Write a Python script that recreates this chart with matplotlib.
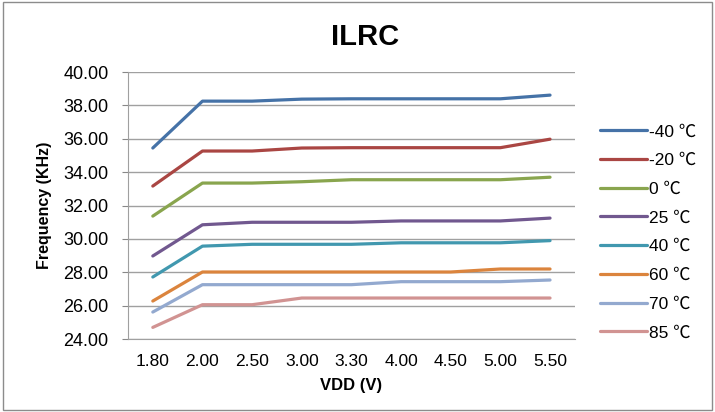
import numpy as np
import matplotlib.pyplot as plt

plt.rcParams['font.family'] = ['Liberation Sans', 'Noto Sans CJK SC', 'DejaVu Sans']

vdd = ['1.80', '2.00', '2.50', '3.00', '3.30', '4.00', '4.50', '5.00', '5.50']
temps = ['-40 ℃', '-20 ℃', '0 ℃', '25 ℃', '40 ℃', '60 ℃', '70 ℃', '85 ℃']
colors = ['#4572A7', '#AA4643', '#89A54E', '#71588F', '#4198AF', '#DB843D', '#93A9CF', '#D19392']

f_m40 = [35.45, 38.26, 38.26, 38.38, 38.40, 38.40, 38.40, 38.40, 38.62]
f_m20 = [33.17, 35.27, 35.27, 35.45, 35.47, 35.47, 35.47, 35.47, 35.98]
f_0 = [31.37, 33.35, 33.35, 33.43, 33.55, 33.55, 33.55, 33.55, 33.70]
f_25 = [28.98, 30.85, 31.00, 31.00, 31.00, 31.08, 31.08, 31.08, 31.25]
f_40 = [27.72, 29.57, 29.68, 29.68, 29.68, 29.77, 29.77, 29.77, 29.90]
f_60 = [26.28, 28.02, 28.02, 28.02, 28.02, 28.02, 28.02, 28.20, 28.20]
f_70 = [25.62, 27.26, 27.26, 27.26, 27.26, 27.44, 27.44, 27.44, 27.54]
f_85 = [24.70, 26.06, 26.06, 26.46, 26.46, 26.46, 26.46, 26.46, 26.46]
series = [f_m40, f_m20, f_0, f_25, f_40, f_60, f_70, f_85]

fig = plt.figure(figsize=(7.15, 4.12), dpi=100)
ax = fig.add_axes([0.179, 0.177, 0.625, 0.648])
x = np.arange(len(vdd))
for ys, lab, c in zip(series, temps, colors):
    ax.plot(x, ys, color=c, linewidth=2.3, label=lab, solid_capstyle='round')

ax.set_xlim(-0.5, len(vdd) - 0.5)
ax.set_ylim(24, 40)
ax.set_yticks(np.arange(24, 41, 2))
ax.set_yticklabels([f'{v:.2f}' for v in np.arange(24, 41, 2)], fontsize=13)
ax.set_xticks(x)
ax.set_xticklabels(vdd, fontsize=12.5)
ax.tick_params(axis='x', length=0, pad=11)
ax.tick_params(axis='y', length=4, color='#888888', pad=10)
ax.grid(axis='y', color='#A0A0A0', linewidth=1)
ax.set_axisbelow(True)
for s in ['top', 'right']:
    ax.spines[s].set_visible(False)
ax.spines['left'].set_color('#A0A0A0')
ax.spines['bottom'].set_color('#A0A0A0')

fig.text(365 / 715, 1 - 37 / 412, 'ILRC', fontsize=21, fontweight='bold', ha='center', va='center')
ax.set_xlabel('VDD (V)', fontsize=12, fontweight='bold', labelpad=6)
ax.set_ylabel('Frequency (KHz)', fontsize=11.5, fontweight='bold', labelpad=8)

ax.legend(loc='center left', bbox_to_anchor=(1.04, 0.40), frameon=False, borderaxespad=0,
          fontsize=12.5, handlelength=2.7, labelspacing=0.78, handletextpad=0.15)

fig.patches.append(plt.Rectangle((0.004, 0.006), 0.992, 0.988, transform=fig.transFigure,
                                 fill=False, edgecolor='#8C8C8C', linewidth=1))
fig.savefig('out.png', dpi=100)
